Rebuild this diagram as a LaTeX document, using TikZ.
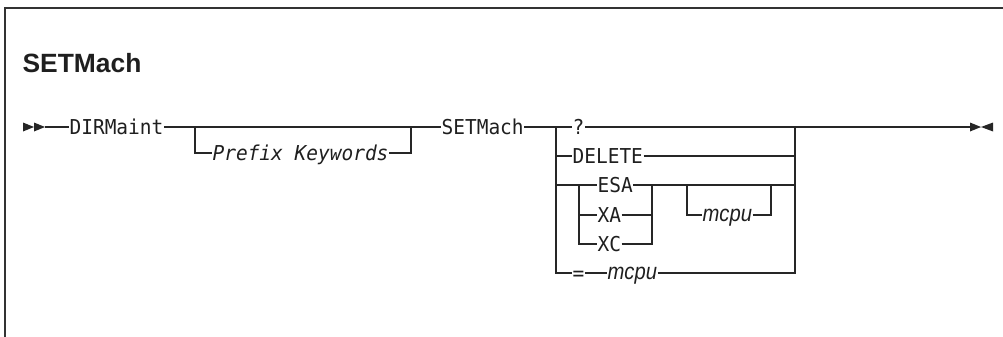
\documentclass[tikz,border=0pt]{standalone}
\usepackage{fontspec}
\setmainfont{Liberation Sans}
\newfontfamily\kwfont[FakeStretch=0.95]{DejaVu Sans Mono}
\newfontfamily\varfont[FakeStretch=0.88]{Liberation Sans}
\usepackage{tikz}
\usetikzlibrary{positioning,calc}

\begin{document}
\begin{tikzpicture}[
  x=1pt, y=-1pt,
  line width=1.2pt, draw=black!85,
  kw/.style={inner sep=0pt, anchor=west, text height=14.5pt, text depth=0pt,
    font=\kwfont\fontsize{20.5}{22}\selectfont, text=black!88},
  var/.style={inner sep=0pt, anchor=west, text height=12pt, text depth=0pt,
    font=\varfont\fontsize{23}{25}\selectfont\itshape, text=black!88},
  title/.style={inner sep=0pt, anchor=base west,
    font=\fontsize{26.4}{30}\selectfont\bfseries, text=black!88},
  tip/.style={fill=black!85}
]
\useasboundingbox (0,0) rectangle (1003,337);

% Frame
\draw[line width=1.5pt, black!80] (5,337) -- (5,8) -- (1003,8);

% Title
\node[title] (head) at (22,72) {SETMach};

% Keywords and variables
\node[kw] (dirm) at (69,127) {DIRMaint};
\node[kw] (prefix) at (212,153) {\itshape Prefix Keywords};
\node[kw] (setm) at (441,127) {SETMach};
\node[kw] (q) at (572,127) {?};
\node[kw] (del) at (572,156) {DELETE};
\node[kw] (esa) at (597,185) {ESA};
\node[kw] (xa) at (597,215) {XA};
\node[kw] (xc) at (597,244) {XC};
\node[var] (mcpua) at (702,215) {mcpu};
\node[kw] (eq) at (572,273) {=};
\node[var] (mcpub) at (607,273) {mcpu};

% Junctions
\coordinate (beg) at (45,127);
\coordinate (fin) at (970,127);
\coordinate (pl) at (195,127);
\coordinate (pr) at (411,127);
\coordinate (cl) at (556,127);
\coordinate (cr) at (795,127);
\coordinate (il) at (579,185);
\coordinate (ir) at (652,185);
\coordinate (ol) at (687,185);
\coordinate (or) at (771,185);

% Start and end marks
\fill[tip] (beg) -- ++(-11,-4.5) -- ++(0,9) -- cycle;
\fill[tip] ($(beg)+(-11,0)$) -- ++(-11,-4.5) -- ++(0,9) -- cycle;
\fill[tip] (fin) -- ++(11,0) -- ++(-11,-4.5) -- cycle;
\fill[tip] (fin) -- ++(11,0) -- ++(-11,4.5) -- cycle;
\fill[tip] ($(fin)+(11,0)$) -- ++(12,-4.5) -- ++(0,9) -- cycle;

% Main line
\draw (beg) -- (dirm.west);
\draw (dirm.east) -- (setm.west);
\draw (pl) |- (prefix.west);
\draw (prefix.east) -| (pr);
\draw (setm.east) -- (q.west);
\draw (q.east) -- (cr) -- (fin);

% Choice stack
\draw (cl) |- (eq.west);
\draw (cl) |- (del.west);
\draw (del.east) -| (cr);
\draw (cl |- esa.west) -- (esa.west);
\draw (il) |- (xa.west);
\draw (il) |- (xc.west);
\draw (esa.east) -- (ir);
\draw (xa.east) -| (ir);
\draw (xc.east) -| (ir);
\draw (ir) -- (cr |- ir);
\draw (ol) |- (mcpua.west);
\draw (mcpua.east) -| (or);
\draw (eq.east) -- (mcpub.west);
\draw (mcpub.east) -| (cr);

\end{tikzpicture}
\end{document}
